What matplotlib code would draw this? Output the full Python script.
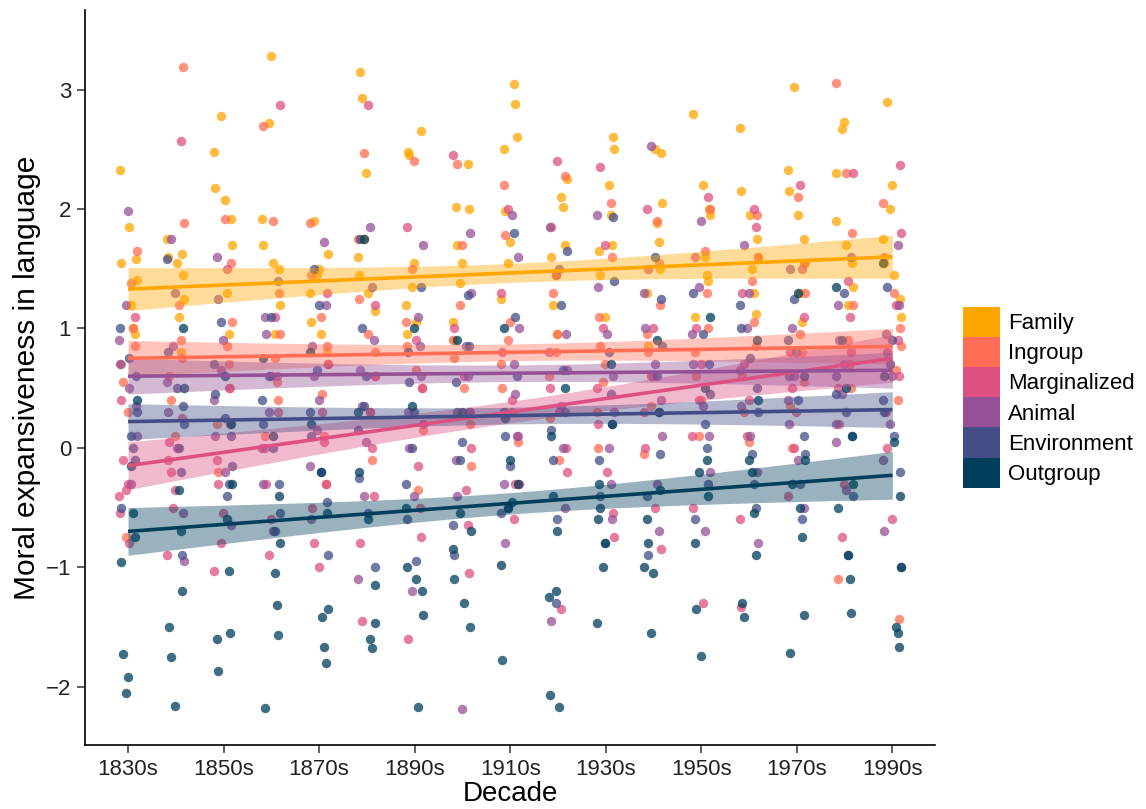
import numpy as np
import matplotlib
matplotlib.use("Agg")
import matplotlib.pyplot as plt
from matplotlib.patches import Patch

plt.rcParams['font.family'] = ['Liberation Sans', 'DejaVu Sans']

decades = ["1830s", "1840s", "1850s", "1860s", "1870s", "1880s", "1890s", "1900s", "1910s",
           "1920s", "1930s", "1940s", "1950s", "1960s", "1970s", "1980s", "1990s"]
tick_labels = ["1830s", "1850s", "1870s", "1890s", "1910s", "1930s", "1950s", "1970s", "1990s"]
groups = ["Family", "Ingroup", "Marginalized", "Animal", "Environment", "Outgroup"]
colors = ["#FFA600", "#FF6E54", "#DD5182", "#955196", "#444E86", "#003F5C"]

family = [
    [2.33, 1.85, 1.58, 1.41, 1.2, 1.0, 0.95, 1.55],
    [1.75, 1.6, 1.55, 1.45, 1.25, 1.1, 0.8, 1.62],
    [2.78, 2.48, 2.18, 2.08, 1.92, 1.7, 1.3, 0.95],
    [3.28, 2.72, 1.92, 1.7, 1.55, 1.5, 1.2, 0.95],
    [1.9, 1.5, 1.45, 1.3, 1.05, 0.95, 0.8, 1.62],
    [3.15, 2.93, 2.3, 1.75, 1.6, 1.45, 1.3, 1.15],
    [2.65, 2.48, 2.45, 1.55, 1.35, 1.2, 0.95, 1.05],
    [2.38, 2.0, 2.02, 1.7, 1.55, 1.38, 1.05, 0.9],
    [3.05, 2.88, 2.6, 2.5, 1.98, 1.72, 1.55, 1.25],
    [2.25, 2.1, 2.02, 1.7, 1.6, 1.2, 0.95, 1.45],
    [2.6, 2.5, 2.2, 1.95, 1.7, 1.65, 1.45, 1.1],
    [2.5, 2.47, 2.05, 1.88, 1.72, 1.5, 1.3, 0.85],
    [2.8, 2.2, 2.0, 1.95, 1.6, 1.45, 1.4, 1.1],
    [2.68, 2.15, 1.95, 1.75, 1.6, 1.5, 1.3, 1.12],
    [3.02, 2.33, 2.15, 1.95, 1.75, 1.55, 1.3, 1.05],
    [2.73, 2.67, 2.3, 1.9, 1.7, 1.55, 1.35, 1.2],
    [2.9, 2.2, 2.0, 1.75, 1.55, 1.45, 1.25, 1.1],
]
ingroup = [
    [1.65, 1.38, 1.0, 0.85, 0.7, 0.55, 0.3, -0.75],
    [3.19, 1.88, 1.2, 0.9, 0.75, 0.6, 0.4, 0.1],
    [1.92, 1.55, 1.05, 0.85, 0.7, 0.5, 0.2, -0.2],
    [2.7, 1.9, 1.3, 0.95, 0.75, 0.55, 0.4, 0.1],
    [1.88, 1.45, 1.1, 0.85, 0.7, 0.45, 0.1, -0.3],
    [2.47, 1.75, 1.25, 0.95, 0.8, 0.6, 0.3, -0.1],
    [2.4, 1.5, 1.05, 0.85, 0.65, 0.5, 0.15, -0.35],
    [2.38, 1.7, 1.2, 0.9, 0.75, 0.5, 0.2, -0.15],
    [2.2, 1.78, 1.05, 0.9, 0.7, 0.5, 0.3, 0.05],
    [2.28, 1.85, 1.3, 0.95, 0.8, 0.6, 0.25, -0.1],
    [2.05, 1.6, 1.1, 0.85, 0.7, 0.55, 0.3, 0.0],
    [1.9, 1.55, 1.2, 0.95, 0.8, 0.6, 0.35, -0.05],
    [2.0, 1.65, 1.3, 1.0, 0.8, 0.6, 0.4, 0.1],
    [1.95, 1.6, 1.4, 1.05, 0.85, 0.6, 0.3, 0.05],
    [2.1, 1.55, 1.3, 0.95, 0.8, 0.55, 0.35, 0.0],
    [3.06, 2.3, 1.8, 1.2, 0.9, 0.7, 0.5, -1.1],
    [2.05, 1.6, 1.3, 1.0, 0.85, 0.65, 0.4, -1.43],
]
marginalized = [
    [1.1, 0.4, -0.1, -0.3, -0.35, -0.4, -0.55, -0.8],
    [2.57, 0.25, 0.05, -0.2, -0.35, -0.5, -0.9, -0.1],
    [1.5, 0.5, 0.2, -0.1, -0.3, -0.55, -0.8, -1.03],
    [2.87, 1.1, 0.6, 0.3, 0.0, -0.3, -0.6, -0.9],
    [1.3, 0.7, 0.3, 0.05, -0.3, -0.5, -0.8, -1.0],
    [2.87, 1.2, 0.6, 0.3, 0.0, -0.4, -0.8, -1.45],
    [1.85, 0.9, 0.5, 0.2, -0.15, -0.5, -0.75, -1.6],
    [2.45, 1.0, 0.6, 0.3, 0.0, -0.35, -0.65, -1.05],
    [2.0, 1.3, 0.8, 0.4, 0.1, -0.3, -0.6, -0.3],
    [2.4, 1.45, 0.8, 0.5, 0.3, 0.0, -0.2, -1.35],
    [2.35, 1.7, 1.0, 0.5, 0.2, -0.2, -0.55, -0.75],
    [2.0, 1.5, 1.0, 0.6, 0.3, 0.0, -0.5, -0.85],
    [2.1, 1.6, 1.0, 0.7, 0.4, 0.1, -0.5, -1.3],
    [2.0, 1.85, 1.3, 0.7, 0.4, 0.1, -0.6, -1.33],
    [2.2, 1.5, 1.1, 0.8, 0.5, 0.3, 0.0, -0.4],
    [2.3, 1.4, 1.1, 0.8, 0.5, 0.2, -0.3, -0.75],
    [2.37, 1.8, 1.2, 0.9, 0.6, 0.3, 0.0, -0.6],
]
animal = [
    [1.98, 1.2, 0.9, 0.7, 0.5, 0.35, 0.1, -0.3],
    [1.75, 1.3, 0.85, 0.55, 0.3, 0.0, -0.55, -0.95],
    [1.6, 1.25, 0.9, 0.65, 0.4, 0.1, -0.2, -0.65],
    [1.4, 1.1, 0.95, 0.6, 0.3, 0.0, -0.3, -0.7],
    [1.72, 1.2, 0.85, 0.6, 0.4, 0.15, -0.15, -0.6],
    [1.85, 1.35, 0.9, 0.65, 0.35, 0.05, -0.4, -1.1],
    [1.7, 1.1, 0.85, 0.6, 0.3, 0.0, -0.4, -1.2],
    [1.8, 1.3, 0.85, 0.6, 0.3, -0.1, -0.4, -2.19],
    [1.95, 1.6, 1.0, 0.7, 0.45, 0.1, -0.3, -0.8],
    [1.85, 1.5, 0.95, 0.65, 0.35, 0.0, -0.5, -1.45],
    [1.95, 1.35, 0.95, 0.6, 0.3, 0.0, -0.3, -0.6],
    [2.53, 1.3, 1.0, 0.7, 0.4, 0.1, -0.3, -0.7],
    [1.9, 1.35, 0.95, 0.7, 0.35, 0.1, -0.2, -0.7],
    [1.7, 1.3, 1.0, 0.65, 0.35, 0.1, -0.2, -0.8],
    [1.5, 1.0, 0.8, 0.6, 0.4, 0.2, -0.1, -0.5],
    [1.6, 1.2, 0.9, 0.7, 0.45, 0.2, 0.05, -0.35],
    [1.7, 1.2, 0.95, 0.8, 0.6, 0.2, -0.1, -0.7],
]
environment = [
    [1.0, 0.75, 0.6, 0.3, 0.1, 0.0, -0.1, -0.5],
    [1.58, 0.8, 0.5, 0.35, 0.2, 0.0, -0.2, -0.9],
    [1.05, 0.7, 0.45, 0.25, 0.1, -0.15, -0.4, -0.3],
    [1.1, 0.6, 0.4, 0.2, 0.0, -0.3, -0.55, -0.7],
    [1.5, 1.2, 0.65, 0.3, 0.1, -0.2, -0.45, -0.9],
    [1.75, 1.0, 0.6, 0.35, 0.15, -0.25, -0.55, -1.0],
    [1.35, 0.8, 0.55, 0.3, 0.0, -0.3, -0.6, -0.95],
    [1.28, 0.85, 0.55, 0.3, 0.05, -0.1, -0.65, -0.9],
    [1.8, 1.1, 0.6, 0.3, 0.1, -0.15, -0.5, -0.55],
    [1.65, 1.2, 0.65, 0.3, 0.15, -0.1, -0.6, -1.3],
    [1.93, 1.4, 0.8, 0.45, 0.2, -0.1, -0.4, -0.8],
    [1.6, 1.25, 0.85, 0.6, 0.3, -0.05, -0.4, -0.9],
    [1.3, 0.95, 0.7, 0.45, 0.2, 0.0, -0.3, -0.6],
    [1.2, 1.0, 0.75, 0.5, 0.3, -0.05, -0.3, -0.5],
    [1.25, 0.9, 0.6, 0.4, 0.1, -0.05, -0.3, -0.6],
    [1.3, 0.9, 0.6, 0.45, 0.3, 0.1, -0.4, -0.9],
    [1.35, 0.9, 0.7, 0.4, 0.3, 0.1, -0.2, -1.0],
]
outgroup = [
    [0.4, -0.15, -0.55, -0.75, -0.96, -1.73, -1.92, -2.05],
    [1.0, 0.5, -0.35, -0.7, -1.2, -1.5, -1.75, -2.16],
    [0.6, 0.2, -0.3, -0.6, -1.03, -1.55, -1.6, -1.87],
    [0.75, 0.1, -0.4, -0.8, -1.05, -1.32, -1.57, -2.18],
    [0.8, 0.2, -0.2, -0.55, -1.35, -1.42, -1.67, -1.8],
    [1.75, 0.3, -0.2, -0.6, -1.15, -1.47, -1.6, -1.68],
    [1.0, 0.35, -0.5, -1.0, -1.1, -1.2, -1.4, -2.17],
    [0.9, 0.3, -0.55, -0.85, -1.1, -1.3, -1.5, -0.7],
    [1.0, 0.25, -0.1, -0.5, -0.98, -1.78, -0.45, -0.3],
    [0.5, 0.1, -0.4, -0.7, -1.2, -1.25, -2.07, -2.17],
    [0.7, 0.2, -0.3, -0.5, -0.8, -1.0, -1.47, -0.6],
    [0.9, 0.3, -0.35, -0.6, -0.8, -1.05, -1.55, -1.0],
    [1.1, 0.5, -0.1, -0.4, -0.8, -1.35, -1.74, -0.2],
    [0.9, 0.4, -0.2, -0.55, -0.9, -1.3, -1.42, -0.1],
    [1.3, 0.6, -0.1, -0.5, -0.75, -1.4, -1.72, -0.3],
    [1.35, 0.5, 0.1, -0.3, -0.9, -1.1, -1.38, -0.5],
    [1.55, 0.6, 0.05, -0.4, -1.0, -1.5, -1.55, -1.67],
]
series = [family, ingroup, marginalized, animal, environment, outgroup]

# fitted trend lines (value at 1830s and 1990s) and CI half-widths (ends, middle)
fit_start = [1.33, 0.75, -0.15, 0.60, 0.22, -0.70]
fit_end = [1.60, 0.85, 0.75, 0.65, 0.32, -0.23]
ci_end = [0.18, 0.15, 0.20, 0.15, 0.15, 0.20]
ci_mid = [0.08, 0.07, 0.09, 0.07, 0.07, 0.09]

jit = [-0.17, 0.11, -0.05, 0.18, -0.11, 0.03, 0.14, -0.19, 0.07, -0.01, 0.16, -0.14]

fig = plt.figure(figsize=(11.46, 8.09), dpi=100)
ax = fig.add_axes([0.0742, 0.079, 0.742, 0.909])

n_dec = len(decades)
for g, (vals, col) in enumerate(zip(series, colors)):
    xs, ys = [], []
    for d, col_vals in enumerate(vals):
        for k, v in enumerate(col_vals):
            xs.append(d + jit[(k * 5 + g * 3 + d * 7) % len(jit)])
            ys.append(v)
    ax.scatter(xs, ys, s=46, color=col, alpha=0.75, linewidths=0, zorder=2)

xx = np.linspace(0, n_dec - 1, 200)
half = (n_dec - 1) / 2
for g, col in enumerate(colors):
    yy = fit_start[g] + (fit_end[g] - fit_start[g]) * xx / (n_dec - 1)
    b = np.sqrt(ci_end[g] ** 2 - ci_mid[g] ** 2) / half
    w = np.sqrt(ci_mid[g] ** 2 + (b * (xx - half)) ** 2)
    ax.fill_between(xx, yy - w, yy + w, color=col, alpha=0.4, linewidth=0, zorder=3)
for g, col in enumerate(colors):
    yy = fit_start[g] + (fit_end[g] - fit_start[g]) * xx / (n_dec - 1)
    ax.plot(xx, yy, color=col, lw=2.6, zorder=4, solid_capstyle='butt')

ax.set_xlim(-0.9, n_dec - 1 + 0.9)
ax.set_ylim(-2.49, 3.67)
ax.set_xticks([decades.index(t) for t in tick_labels])
ax.set_xticklabels(tick_labels)
ax.set_yticks([-2, -1, 0, 1, 2, 3])
ax.set_yticklabels(["\u22122", "\u22121", "0", "1", "2", "3"])
ax.tick_params(axis='both', labelsize=16, length=6, width=1.1, color='#333333',
               labelcolor='#222222', direction='out', pad=4)
for s in ['top', 'right']:
    ax.spines[s].set_visible(False)
for s in ['left', 'bottom']:
    ax.spines[s].set_linewidth(1.2)
ax.set_xlabel("Decade", fontsize=20, labelpad=1)
ax.set_ylabel("Moral expansiveness in language", fontsize=21.5, labelpad=3)

handles = [Patch(facecolor=c, edgecolor='none', alpha=1) for c in colors]
leg = fig.legend(handles, groups, loc='center left', bbox_to_anchor=(0.8403, 0.509),
                 frameon=False, fontsize=16, handlelength=1.67, handleheight=1.715,
                 labelspacing=0.0, handletextpad=0.35, borderpad=0, borderaxespad=0)

fig.savefig("out.png", dpi=100)
